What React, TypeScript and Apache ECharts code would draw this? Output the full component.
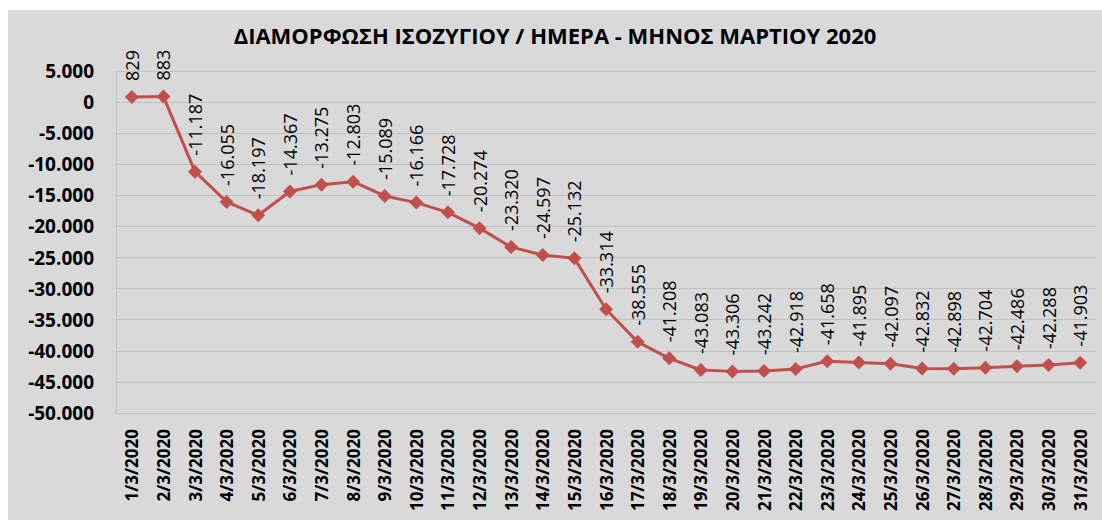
import React, { useEffect, useRef } from "react";
import * as echarts from "echarts";

const titleText = "ΔΙΑΜΟΡΦΩΣΗ ΙΣΟΖΥΓΙΟΥ / ΗΜΕΡΑ - ΜΗΝΟΣ ΜΑΡΤΙΟΥ 2020";

const days: string[] = Array.from({ length: 31 }, (_, i) => `${i + 1}/3/2020`);

const balance: number[] = [
  829, 883, -11187, -16055, -18197, -14367, -13275, -12803, -15089, -16166,
  -17728, -20274, -23320, -24597, -25132, -33314, -38555, -41208, -43083, -43306,
  -43242, -42918, -41658, -41895, -42097, -42832, -42898, -42704, -42486, -42288,
  -41903,
];

const yMin = -50000;
const yMax = 5000;
const yStep = 5000;

function fmt(v: number): string {
  const s = Math.abs(Math.round(v)).toString().replace(/\B(?=(\d{3})+(?!\d))/g, ".");
  return (v < 0 ? "-" : "") + s;
}

const FONT = "'Open Sans', 'Noto Sans', sans-serif";

export default function App() {
  const ref = useRef<HTMLDivElement>(null);
  useEffect(() => {
    if (!ref.current) return;
    const chart = echarts.init(ref.current, undefined, { renderer: "svg" });
    chart.setOption({
      animation: false,
      backgroundColor: "#d9d9d9",
      title: {
        text: titleText,
        left: "center",
        top: 9,
        textStyle: { fontFamily: FONT, fontSize: 22, fontWeight: "bold", color: "#000" },
      },
      grid: { left: 108, right: 6, top: 61, bottom: 107, containLabel: false },
      xAxis: {
        type: "category",
        data: days,
        boundaryGap: true,
        axisLine: { onZero: false, lineStyle: { color: "#bfbfbf", width: 1 } },
        axisTick: { show: false },
        axisLabel: {
          rotate: 90,
          interval: 0,
          margin: 16,
          fontFamily: FONT,
          fontSize: 17,
          fontWeight: "bold",
          color: "#000",
        },
      },
      yAxis: {
        type: "value",
        min: yMin,
        max: yMax,
        interval: yStep,
        axisLine: { show: true, lineStyle: { color: "#bfbfbf", width: 1 } },
        axisTick: { show: false },
        splitLine: { lineStyle: { color: "#bfbfbf", width: 1 } },
        axisLabel: {
          formatter: (v: number) => fmt(v),
          margin: 22,
          fontFamily: FONT,
          fontSize: 19,
          fontWeight: "bold",
          color: "#000",
        },
      },
      series: [
        {
          type: "line",
          data: balance,
          symbol: "diamond",
          symbolSize: 14,
          lineStyle: { color: "#c0504d", width: 3 },
          itemStyle: { color: "#c0504d" },
          label: {
            show: true,
            position: "top",
            distance: 9,
            rotate: 90,
            align: "left",
            verticalAlign: "middle",
            formatter: (p: any) => fmt(p.value),
            fontFamily: FONT,
            fontSize: 18,
            color: "#000",
          },
        },
      ],
    });
    return () => chart.dispose();
  }, []);
  return (
    <div style={{ position: "absolute", left: 0, top: 0, width: 1102, height: 520, background: "#fff" }}>
      <div ref={ref} style={{ position: "absolute", left: 8, top: 10, width: 1094, height: 510 }} />
    </div>
  );
}
